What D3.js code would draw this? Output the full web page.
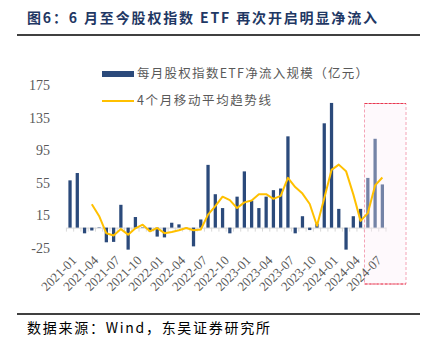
<!DOCTYPE html>
<html><head><meta charset="utf-8">
<script src="https://cdn.jsdelivr.net/npm/d3@7"></script>
<style>body{margin:0;background:#fff;}svg{display:block;}</style>
</head><body>
<svg id="c" width="428" height="347"></svg>
<script>
const months = ["2021-01","2021-02","2021-03","2021-04","2021-05","2021-06","2021-07","2021-08","2021-09","2021-10","2021-11","2021-12",
"2022-01","2022-02","2022-03","2022-04","2022-05","2022-06","2022-07","2022-08","2022-09","2022-10","2022-11","2022-12",
"2023-01","2023-02","2023-03","2023-04","2023-05","2023-06","2023-07","2023-08","2023-09","2023-10","2023-11","2023-12",
"2024-01","2024-02","2024-03","2024-04","2024-05","2024-06","2024-07","2024-08"];
const netInflow = [58,67,-7,-3.5,0.5,-18,-17.5,28,-27,13,0.5,-4.5,
-11,-12,6,4,0.3,-23,10,77,41,24,-7,38,
69,33,24,38,46,48,112,-7,14,-3,5,128,
153,23,-27,14,23,61,109,53];
const movingAvg = [null,null,null,28.6,14.3,-7,-9.6,-1.8,-8.6,-0.9,3.6,-4.5,
-0.5,-6.8,-5.4,-3.3,-0.5,-3.3,-2.3,16,26.3,38,33.8,24,
31,33.3,41,41,35.3,39,61,49.8,41.8,29,2.3,36,
70.8,77.3,69.3,40.8,8.3,17.8,51.8,61.5];
const yTicks = [-25,15,55,95,135,175];
const tickLabels = months.filter((m,i)=>i%3===0);
const highlight = ["2024-06","2024-08"];
const titleText = "图6：6 月至今股权指数 ETF 再次开启明显净流入";
const legendBar = "每月股权指数ETF净流入规模（亿元）";
const legendLine = "4个月移动平均趋势线";
const sourceText = "数据来源：Wind，东吴证券研究所";

const svg = d3.select("#c");
const cjk = "'Noto Sans CJK SC', 'Noto Sans', sans-serif";
const serif = "'Liberation Serif', 'DejaVu Serif', serif";

const x = d3.scaleBand().domain(months).range([66.4, 386]).paddingInner(0.55).paddingOuter(0.275);
const step = x.step();
const xc = m => x(m) + x.bandwidth()/2;
const y = d3.scaleLinear().domain([-25,175]).range([248,85]);

// title
svg.append("text").attr("x",27).attr("y",23).attr("font-family",cjk).attr("font-weight","bold")
  .attr("font-size",14).attr("fill","#1F3864").attr("textLength",350).attr("lengthAdjust","spacing").text(titleText);
svg.append("line").attr("x1",17).attr("x2",420).attr("y1",35).attr("y2",35).attr("stroke","#000").attr("stroke-width",1.5);
svg.append("line").attr("x1",17).attr("x2",420).attr("y1",314).attr("y2",314).attr("stroke","#000").attr("stroke-width",1.5);
svg.append("text").attr("x",27).attr("y",333).attr("font-family",cjk).attr("font-size",14)
  .attr("fill","#000").attr("textLength",243).attr("lengthAdjust","spacing").text(sourceText);

// y axis labels
svg.append("g").selectAll("text").data(yTicks).join("text")
  .attr("x",50).attr("y",d=>y(d)).attr("dy","0.35em").attr("text-anchor","end")
  .attr("font-family",serif).attr("font-size",14).attr("fill","#595959").text(d=>d);

// zero axis
const ax = svg.append("g").attr("transform",`translate(0,${y(0)})`)
  .call(d3.axisBottom(x).tickValues([]).tickSizeOuter(0));
ax.select(".domain").attr("stroke","#D9D9D9").attr("stroke-width",1);
svg.append("g").selectAll("line").data(months.concat(["end"])).join("line")
  .attr("x1",(d,i)=>x.range()[0]+i*step).attr("x2",(d,i)=>x.range()[0]+i*step)
  .attr("y1",y(0)).attr("y2",y(0)+4).attr("stroke","#D9D9D9").attr("stroke-width",1);

// bars
svg.append("g").selectAll("rect").data(months).join("rect")
  .attr("x",d=>x(d)).attr("width",x.bandwidth())
  .attr("y",(d,i)=>y(Math.max(0,netInflow[i])))
  .attr("height",(d,i)=>Math.abs(y(netInflow[i])-y(0)))
  .attr("fill","#2B4A7B");

// highlight box
const hx0 = x(highlight[0]) - (step - x.bandwidth())/2 + 0.3;
const hx1 = 406;
svg.append("rect").attr("x",hx0).attr("y",103.5).attr("width",hx1-hx0).attr("height",284-103.5)
  .attr("fill","#FCEEF5").attr("fill-opacity",0.35).attr("stroke","#F4A3B6").attr("stroke-width",1).attr("stroke-dasharray","3,2");
svg.append("line").attr("x1",hx0).attr("x2",hx1).attr("y1",103.5).attr("y2",103.5).attr("stroke","#E8384F").attr("stroke-width",1.2).attr("stroke-dasharray","3,1");
svg.append("line").attr("x1",hx0).attr("x2",hx1).attr("y1",284).attr("y2",284).attr("stroke","#E8384F").attr("stroke-width",1).attr("stroke-dasharray","3,1");

// moving average line
const line = d3.line().defined(d=>d!=null).x((d,i)=>xc(months[i])).y(d=>y(d));
svg.append("path").datum(movingAvg).attr("d",line).attr("fill","none")
  .attr("stroke","#FFC000").attr("stroke-width",2).attr("stroke-linejoin","round");

// x tick labels
svg.append("g").selectAll("text").data(tickLabels).join("text")
  .attr("transform",d=>`translate(${xc(d)+4},${258}) rotate(-45)`)
  .attr("text-anchor","end").attr("dy","0.35em")
  .attr("font-family",serif).attr("font-size",13).attr("fill","#595959").text(d=>d);

// legend
svg.append("rect").attr("x",102).attr("y",71).attr("width",32).attr("height",6).attr("fill","#2B4A7B");
svg.append("text").attr("x",137).attr("y",74).attr("dy","0.35em").attr("font-family",cjk).attr("font-size",12.5)
  .attr("fill","#595959").attr("textLength",231).attr("lengthAdjust","spacing").text(legendBar);
svg.append("line").attr("x1",102).attr("x2",134).attr("y1",101).attr("y2",101).attr("stroke","#FFC000").attr("stroke-width",2);
svg.append("text").attr("x",137).attr("y",101).attr("dy","0.35em").attr("font-family",cjk).attr("font-size",12.5)
  .attr("fill","#595959").attr("textLength",134).attr("lengthAdjust","spacing").text(legendLine);
</script>
</body></html>
